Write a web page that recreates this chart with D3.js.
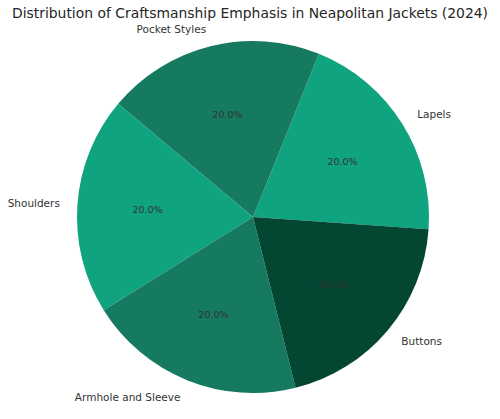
<!DOCTYPE html>
<html>
<head>
<meta charset="utf-8">
<script src="https://cdn.jsdelivr.net/npm/d3@7"></script>
<style>
  body { margin: 0; background: #fff; }
  text { font-family: "DejaVu Sans", sans-serif; }
</style>
</head>
<body>
<div id="chart"></div>
<script>
// chart values
const categories = ["Lapels", "Pocket Styles", "Shoulders", "Armhole and Sleeve", "Buttons"];
const shares = [20, 20, 20, 20, 20];
const colors = ["#10a37f", "#167a60", "#10a37f", "#167a60", "#034732"];

const width = 500;
const height = 419;
const cx = 253, cy = 217, radius = 176;

const svg = d3.select("#chart")
  .append("svg")
  .attr("width", width)
  .attr("height", height);

svg.append("text")
  .attr("x", width / 2)
  .attr("y", 18)
  .attr("text-anchor", "middle")
  .style("font-size", "13.9px")
  .style("fill", "#262626")
  .text("Distribution of Craftsmanship Emphasis in Neapolitan Jackets (2024)");

// counter-clockwise slices, first one starting just below 3 o'clock
const start = 94 * Math.PI / 180;
const pie = d3.pie()
  .sort(null)
  .value(d => d)
  .startAngle(start)
  .endAngle(start - 2 * Math.PI);

const arcs = pie(shares);
const total = d3.sum(shares);

const g = svg.append("g")
  .attr("transform", `translate(${cx},${cy})`);

const arc = d3.arc().innerRadius(0).outerRadius(radius);
const pctArc = d3.arc().innerRadius(radius * 0.6).outerRadius(radius * 0.6);
const labelArc = d3.arc().innerRadius(radius * 1.1).outerRadius(radius * 1.1);

g.selectAll(".slice")
  .data(arcs)
  .enter().append("path")
  .attr("class", "slice")
  .attr("d", arc)
  .attr("fill", (d, i) => colors[i]);

g.selectAll(".pct")
  .data(arcs)
  .enter().append("text")
  .attr("class", "pct")
  .attr("transform", d => `translate(${pctArc.centroid(d)})`)
  .attr("text-anchor", "middle")
  .attr("dominant-baseline", "central")
  .style("font-size", "9.5px")
  .style("fill", "#333")
  .text(d => (d.value / total * 100).toFixed(1) + "%");

g.selectAll(".label")
  .data(arcs)
  .enter().append("text")
  .attr("class", "label")
  .attr("transform", d => `translate(${labelArc.centroid(d)})`)
  .attr("text-anchor", d => labelArc.centroid(d)[0] >= 0 ? "start" : "end")
  .attr("dominant-baseline", "central")
  .style("font-size", "10.5px")
  .style("fill", "#333")
  .text((d, i) => categories[i]);
</script>
</body>
</html>
